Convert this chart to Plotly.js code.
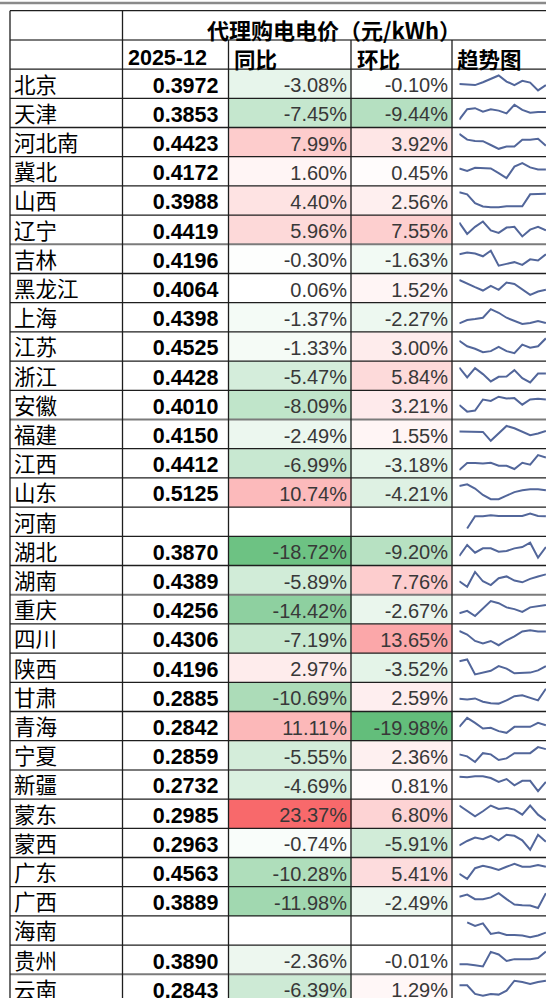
<!DOCTYPE html>
<html><head><meta charset="utf-8">
<script src="https://cdn.plot.ly/plotly-3.0.1.min.js"></script>
<style>html,body{margin:0;padding:0;background:#fff;overflow:hidden}</style>
</head><body><div id="chart" style="width:546px;height:998px"></div>
<script>
// ---------------- data ----------------
const headerTitle = '代理购电电价（元/kWh）';
const headerCols = ['2025-12', '同比', '环比', '趋势图'];
const provinces = ['北京','天津','河北南','冀北','山西','辽宁','吉林','黑龙江','上海','江苏','浙江','安徽','福建','江西','山东','河南','湖北','湖南','重庆','四川','陕西','甘肃','青海','宁夏','新疆','蒙东','蒙西','广东','广西','海南','贵州','云南'];
const price = [0.3972,0.3853,0.4423,0.4172,0.3988,0.4419,0.4196,0.4064,0.4398,0.4525,0.4428,0.4010,0.4150,0.4412,0.5125,null,0.3870,0.4389,0.4256,0.4306,0.4196,0.2885,0.2842,0.2859,0.2732,0.2985,0.2963,0.4563,0.3889,null,0.3890,0.2843];
const yoy = [-3.08,-7.45,7.99,1.60,4.40,5.96,-0.30,0.06,-1.37,-1.33,-5.47,-8.09,-2.49,-6.99,10.74,null,-18.72,-5.89,-14.42,-7.19,2.97,-10.69,11.11,-5.55,-4.69,23.37,-0.74,-10.28,-11.98,null,-2.36,-6.39];
const mom = [-0.10,-9.44,3.92,0.45,2.56,7.55,-1.63,1.52,-2.27,3.00,5.84,3.21,1.55,-3.18,-4.21,null,-9.20,7.76,-2.67,13.65,-3.52,2.59,-19.98,2.36,0.81,6.80,-5.91,5.41,-2.49,null,-0.01,1.29];
const trendMonths = ['M1','M2','M3','M4','M5','M6','M7','M8','M9','M10','M11','M12'];
// relative levels (arbitrary units, higher = higher price)
const trend = [
 [41,40,38,46,56,65,48,38,50,45,23,38],
 [23,53,56,46,53,49,41,66,51,43,45,45],
 [68,50,46,45,33,21,28,28,50,50,53,31],
 [51,44,53,51,51,38,24,56,66,54,48,48],
 [68,62,36,26,24,24,27,27,27,62,64,64],
 [63,31,51,66,41,34,49,51,24,43,51,41],
 [56,61,58,50,66,23,28,33,25,41,38,56],
 [66,54,44,34,48,36,58,54,38,21,31,36],
 [24,34,37,41,67,56,41,31,22,25,31,25],
 [59,43,36,26,29,41,29,23,48,39,43,66],
 [69,39,67,49,27,41,42,61,37,24,51,51],
 [42,23,26,58,54,66,61,62,43,58,60,58],
 [52,51,51,51,24,46,69,62,52,41,46,54],
 [24,45,45,44,46,37,37,27,46,40,69,62],
 [61,66,54,36,24,24,34,44,49,52,52,49],
 [null,25,61,61,64,62,62,62,62,69,62,61],
 [29,62,39,52,52,42,44,52,56,69,24,56],
 [40,24,67,40,29,49,54,42,37,47,54,60],
 [33,40,25,48,68,62,50,45,37,50,53,57],
 [65,55,37,30,37,25,39,50,64,67,64,64],
 [63,68,27,33,37,50,43,30,32,32,38,50],
 [39,37,40,30,25,24,34,47,50,42,34,70],
 [43,70,55,38,40,30,25,43,43,43,55,48],
 [50,45,31,53,50,36,40,53,53,53,68,63],
 [67,65,68,68,63,52,60,42,55,55,25,52],
 [69,54,37,52,69,59,62,57,42,69,42,25],
 [37,50,60,55,65,52,68,65,52,25,68,48],
 [40,26,56,63,58,51,60,68,60,60,65,60],
 [58,64,51,51,56,68,51,36,34,33,26,68],
 [null,71,60,68,36,40,33,33,31,26,31,40],
 [34,34,31,28,68,61,43,48,48,48,51,69],
 [56,56,30,25,30,28,40,70,66,60,66,70]
];

// ---------------- geometry / style ----------------
const W = 546, H = 998;
const ROW_TOP = 69.1, ROW_H = 29.2;
const X_LEFT = 10, X_NAME_END = 122.5, X_VAL_END = 228.5, X_YOY_END = 351, X_MOM_END = 452;
const SPARK_X0 = 459.3, SPARK_X1 = 545.9;
const pxToRow = p => (p - ROW_TOP) / ROW_H - 0.5;
const n = provinces.length;
const rows = provinces.map((_, i) => i);
const TXT_DY = 0.12;
const CJK = '"Noto Sans CJK SC", "Noto Sans", sans-serif';
const LAT = '"Liberation Sans", Arial, sans-serif';

const traces = [];

// heatmap fill for 同比 / 环比
const allPct = yoy.concat(mom).filter(v => v !== null);
const zmin = Math.min(...allPct), zmax = Math.max(...allPct);
const mid = (0 - zmin) / (zmax - zmin);
traces.push({
  type: 'heatmap',
  x: [X_VAL_END, X_YOY_END, X_MOM_END],
  y: rows,
  z: rows.map(i => [yoy[i], mom[i]]),
  zmin: zmin, zmax: zmax,
  colorscale: [[0, '#63BE7B'], [mid, '#FFFFFF'], [1, '#F8696B']],
  showscale: false, hoverinfo: 'skip', xaxis: 'x', yaxis: 'y'
});

// text columns
const ty = rows.map(i => i + TXT_DY);
traces.push({type:'scatter', mode:'text', x: rows.map(() => 14), y: ty, text: provinces,
  textposition:'middle right', textfont:{family:CJK, size:21.5, color:'#000'}, hoverinfo:'skip', xaxis:'x', yaxis:'y'});
traces.push({type:'scatter', mode:'text', x: rows.map(() => 218.5), y: ty,
  text: price.map(v => v === null ? '' : v.toFixed(4)),
  textposition:'middle left', textfont:{family:LAT, size:21.5, color:'#000', weight:'bold'}, hoverinfo:'skip', xaxis:'x', yaxis:'y'});
traces.push({type:'scatter', mode:'text', x: rows.map(() => 347), y: ty,
  text: yoy.map(v => v === null ? '' : v.toFixed(2) + '%'),
  textposition:'middle left', textfont:{family:LAT, size:20, color:'#383838'}, hoverinfo:'skip', xaxis:'x', yaxis:'y'});
traces.push({type:'scatter', mode:'text', x: rows.map(() => 448), y: ty,
  text: mom.map(v => v === null ? '' : v.toFixed(2) + '%'),
  textposition:'middle left', textfont:{family:LAT, size:20, color:'#383838'}, hoverinfo:'skip', xaxis:'x', yaxis:'y'});

const layout = {
  width: W, height: H, margin: {l:0, r:0, t:0, b:0},
  paper_bgcolor: '#fff', plot_bgcolor: 'rgba(0,0,0,0)', showlegend: false,
  xaxis: {range:[0, W], visible:false, fixedrange:true, domain:[0,1]},
  yaxis: {range:[pxToRow(H), pxToRow(0)], visible:false, fixedrange:true, domain:[0,1]},
  xaxis2: {domain:[SPARK_X0 / W, 1], range:[0, 11 * (W - SPARK_X0) / (SPARK_X1 - SPARK_X0)],
           type:'category', visible:false, fixedrange:true, anchor:'y2'},
  shapes: [], annotations: []
};

// sparklines: one y axis per row
const LOW = 0.27, HIGH = 0.78;
rows.forEach(i => {
  const vals = trend[i].filter(v => v !== null);
  const mn = Math.min(...vals), mx = Math.max(...vals);
  const span = (mx - mn) || 1;
  let lo = mn - LOW * span / (HIGH - LOW);
  let hi = lo + span / (HIGH - LOW);
  const T = ROW_TOP + ROW_H * i, B = T + ROW_H;
  let d1 = 1 - T / H, d0 = 1 - B / H;
  if (d0 < 0) { lo = lo + (hi - lo) * (-d0) / (d1 - d0); d0 = 0; }
  const ax = 'yaxis' + (i + 2);
  layout[ax] = {domain:[d0, d1], range:[lo, hi], visible:false, fixedrange:true, anchor:'x2'};
  traces.push({type:'scatter', mode:'lines', x: trendMonths, y: trend[i],
    line:{color:'#52669a', width:2}, connectgaps:false, hoverinfo:'skip',
    xaxis:'x2', yaxis:'y' + (i + 2)});
});

// grid lines
const dark = '#1e1e1e', gray = '#7b7b7b';
const grayRows = [-1.5, 5.5, 11.5, 17.5, 23.5, 30.5];
for (let b = -2.5; b <= n - 0.5 + 1e-9; b += 1) {
  const isGray = grayRows.some(g => Math.abs(g - b) < 1e-6);
  layout.shapes.push({type:'line', xref:'x', yref:'y', x0:X_LEFT, x1:W + 2, y0:b, y1:b,
    line:{color: isGray ? gray : dark, width: isGray ? 2 : 1.3}});
}
[X_LEFT, X_NAME_END].forEach(x => layout.shapes.push({type:'line', xref:'x', yref:'y', x0:x, x1:x, y0:-2.5, y1:n + 1, line:{color:dark, width:1.3}}));
[X_VAL_END, X_YOY_END, X_MOM_END].forEach(x => layout.shapes.push({type:'line', xref:'x', yref:'y', x0:x, x1:x, y0:-1.5, y1:n + 1, line:{color:dark, width:1.3}}));
// window edge line at very top
layout.shapes.push({type:'line', xref:'paper', yref:'paper', x0:0, x1:1, y0:1 - 3 / H, y1:1 - 3 / H, line:{color:'#8a8a8a', width:2.5}});

// header text
layout.annotations.push({xref:'x', yref:'y', x:(X_NAME_END + W) / 2, y:-2 + 0.14, text:headerTitle, showarrow:false,
  xanchor:'center', yanchor:'middle', font:{family:CJK, size:22, color:'#000', weight:600}});
const hx = [126, 232, 354.5, 455];
headerCols.forEach((t, k) => layout.annotations.push({xref:'x', yref:'y', x:hx[k], y:-1 + 0.12, text:t, showarrow:false,
  xanchor:'left', yanchor:'middle', font:{family: k === 0 ? LAT : CJK, size: k === 0 ? 21.5 : 21.5, color:'#000', weight:'bold'}}));

Plotly.newPlot('chart', traces, layout, {staticPlot:true, displayModeBar:false});
</script></body></html>
